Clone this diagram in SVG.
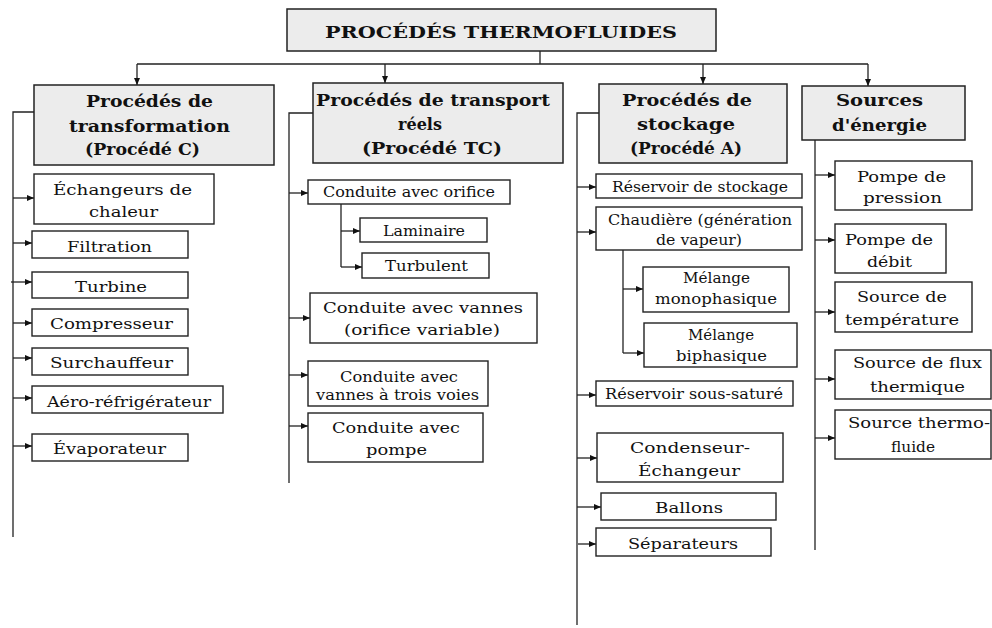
<svg xmlns="http://www.w3.org/2000/svg" width="992" height="628" viewBox="0 0 992 628">
<style>
.hdr rect{fill:#ececec;stroke:#222;stroke-width:1.5}
.box rect{fill:#fff;stroke:#222;stroke-width:1.4}
text{font-family:"DejaVu Serif","Liberation Serif",serif;fill:#111}
.hdr text{font-size:17px;font-weight:bold}
.box text{font-size:15px}
.conn path{fill:none;stroke:#222;stroke-width:1.3}
.conn .a{marker-end:url(#ah)}
</style>
<defs>
<marker id="ah" markerUnits="userSpaceOnUse" markerWidth="8" markerHeight="7" refX="7" refY="3.5" orient="auto">
<path d="M0,0.5 L7,3.5 L0,6.5 z" fill="#111"/>
</marker>
</defs>
<rect width="992" height="628" fill="#fff"/>

<g class="conn" id="connectors">
<path d="M540 51 V64 M137 64 H868"/>
<path class="a" d="M137 64 V85"/>
<path class="a" d="M385 64 V83"/>
<path class="a" d="M703 64 V84"/>
<path class="a" d="M868 64 V86"/>
<path d="M34 112 H13 V537"/>
<path class="a" d="M13 198 H34"/>
<path class="a" d="M13 243 H32"/>
<path class="a" d="M11 282 H32"/>
<path class="a" d="M13 323 H32"/>
<path class="a" d="M13 358 H32"/>
<path class="a" d="M13 398 H32"/>
<path class="a" d="M13 446 H32"/>
<path d="M313 113 H289 V483"/>
<path class="a" d="M289 193 H308"/>
<path class="a" d="M289 318 H310"/>
<path class="a" d="M289 375 H308"/>
<path class="a" d="M289 426 H308"/>
<path d="M341 204 V267"/>
<path class="a" d="M341 231 H360"/>
<path class="a" d="M341 267 H362"/>
<path d="M599 113 H577 V625"/>
<path class="a" d="M577 187 H596"/>
<path class="a" d="M577 232 H596"/>
<path class="a" d="M577 395 H596"/>
<path class="a" d="M577 458 H597"/>
<path class="a" d="M577 507 H601"/>
<path class="a" d="M578 544 H596"/>
<path d="M623 250 V353"/>
<path class="a" d="M623 289 H643"/>
<path class="a" d="M623 353 H644"/>
<path d="M815 140 V550"/>
<path class="a" d="M815 175 H835"/>
<path class="a" d="M815 240 H835"/>
<path class="a" d="M815 312 H835"/>
<path class="a" d="M815 379 H835"/>
<path class="a" d="M815 438 H835"/>
</g>

<g class="hdr" id="title"><rect x="287" y="9" width="429" height="42"/><text x="325" y="38" textLength="352" lengthAdjust="spacingAndGlyphs" style="font-size:17px">PROCÉDÉS THERMOFLUIDES</text></g>
<g class="hdr" id="transformation"><rect x="34" y="85" width="240" height="80"/>
<text x="86" y="107" textLength="127" lengthAdjust="spacingAndGlyphs">Procédés de</text><text x="69" y="132" textLength="161" lengthAdjust="spacingAndGlyphs">transformation</text><text x="85" y="155" textLength="115" lengthAdjust="spacingAndGlyphs">(Procédé C)</text></g>
<g class="hdr" id="transport"><rect x="313" y="83" width="250" height="80"/>
<text x="316" y="106" textLength="234" lengthAdjust="spacingAndGlyphs">Procédés de transport</text><text x="398" y="130" textLength="44" lengthAdjust="spacingAndGlyphs">réels</text><text x="362" y="154" textLength="140" lengthAdjust="spacingAndGlyphs">(Procédé TC)</text></g>
<g class="hdr" id="stockage"><rect x="599" y="84" width="188" height="79"/>
<text x="622" y="106" textLength="130" lengthAdjust="spacingAndGlyphs">Procédés de</text><text x="637" y="130" textLength="98" lengthAdjust="spacingAndGlyphs">stockage</text><text x="630" y="154" textLength="112" lengthAdjust="spacingAndGlyphs">(Procédé A)</text></g>
<g class="hdr" id="sources"><rect x="802" y="86" width="163" height="54"/>
<text x="836" y="106" textLength="87" lengthAdjust="spacingAndGlyphs">Sources</text><text x="832" y="131" textLength="95" lengthAdjust="spacingAndGlyphs">d'énergie</text></g>

<g class="box" id="echangeurs"><rect x="34" y="174" width="180" height="50"/><text x="53" y="195" textLength="139" lengthAdjust="spacingAndGlyphs">Échangeurs de</text><text x="89" y="217" textLength="69" lengthAdjust="spacingAndGlyphs">chaleur</text></g>
<g class="box" id="filtration"><rect x="32" y="231" width="156" height="27"/><text x="67" y="252" textLength="85" lengthAdjust="spacingAndGlyphs">Filtration</text></g>
<g class="box" id="turbine"><rect x="32" y="272" width="156" height="26"/><text x="75" y="292" textLength="72" lengthAdjust="spacingAndGlyphs">Turbine</text></g>
<g class="box" id="compresseur"><rect x="32" y="309" width="156" height="27"/><text x="50" y="329" textLength="123" lengthAdjust="spacingAndGlyphs">Compresseur</text></g>
<g class="box" id="surchauffeur"><rect x="32" y="348" width="156" height="27"/><text x="50" y="368" textLength="123" lengthAdjust="spacingAndGlyphs">Surchauffeur</text></g>
<g class="box" id="aero"><rect x="32" y="386" width="191" height="27"/><text x="47" y="407" textLength="164" lengthAdjust="spacingAndGlyphs">Aéro-réfrigérateur</text></g>
<g class="box" id="evaporateur"><rect x="32" y="434" width="156" height="27"/><text x="53" y="454" textLength="113" lengthAdjust="spacingAndGlyphs">Évaporateur</text></g>

<g class="box" id="orifice"><rect x="308" y="180" width="202" height="24"/><text x="323" y="197" textLength="172" lengthAdjust="spacingAndGlyphs">Conduite avec orifice</text></g>
<g class="box" id="laminaire"><rect x="360" y="218" width="127" height="24"/><text x="383" y="236" textLength="82" lengthAdjust="spacingAndGlyphs">Laminaire</text></g>
<g class="box" id="turbulent"><rect x="362" y="253" width="127" height="25"/><text x="385" y="271" textLength="83" lengthAdjust="spacingAndGlyphs">Turbulent</text></g>
<g class="box" id="vannes"><rect x="310" y="293" width="227" height="50"/><text x="323" y="313" textLength="200" lengthAdjust="spacingAndGlyphs">Conduite avec vannes</text><text x="344" y="335" textLength="156" lengthAdjust="spacingAndGlyphs">(orifice  variable)</text></g>
<g class="box" id="troisvoies"><rect x="308" y="361" width="180" height="45"/><text x="340" y="382" textLength="118" lengthAdjust="spacingAndGlyphs">Conduite avec</text><text x="316" y="400" textLength="163" lengthAdjust="spacingAndGlyphs">vannes à trois voies</text></g>
<g class="box" id="pompe"><rect x="308" y="413" width="175" height="49"/><text x="332" y="433" textLength="128" lengthAdjust="spacingAndGlyphs">Conduite avec</text><text x="366" y="455" textLength="61" lengthAdjust="spacingAndGlyphs">pompe</text></g>

<g class="box" id="reservoir"><rect x="596" y="174" width="206" height="24"/><text x="612" y="192" textLength="176" lengthAdjust="spacingAndGlyphs">Réservoir de stockage</text></g>
<g class="box" id="chaudiere"><rect x="596" y="207" width="206" height="43"/><text x="608" y="225" textLength="184" lengthAdjust="spacingAndGlyphs">Chaudière (génération</text><text x="656" y="245" textLength="86" lengthAdjust="spacingAndGlyphs">de vapeur)</text></g>
<g class="box" id="mono"><rect x="643" y="267" width="146" height="45"/><text x="683" y="283" textLength="67" lengthAdjust="spacingAndGlyphs">Mélange</text><text x="655" y="304" textLength="122" lengthAdjust="spacingAndGlyphs">monophasique</text></g>
<g class="box" id="bi"><rect x="644" y="323" width="153" height="44"/><text x="688" y="340" textLength="66" lengthAdjust="spacingAndGlyphs">Mélange</text><text x="676" y="361" textLength="91" lengthAdjust="spacingAndGlyphs">biphasique</text></g>
<g class="box" id="soussature"><rect x="596" y="381" width="197" height="25"/><text x="605" y="399" textLength="178" lengthAdjust="spacingAndGlyphs">Réservoir sous-saturé</text></g>
<g class="box" id="condenseur"><rect x="597" y="433" width="186" height="49"/><text x="630" y="453" textLength="120" lengthAdjust="spacingAndGlyphs">Condenseur-</text><text x="638" y="476" textLength="102" lengthAdjust="spacingAndGlyphs">Échangeur</text></g>
<g class="box" id="ballons"><rect x="601" y="493" width="175" height="27"/><text x="655" y="513" textLength="68" lengthAdjust="spacingAndGlyphs">Ballons</text></g>
<g class="box" id="separateurs"><rect x="596" y="528" width="175" height="28"/><text x="628" y="549" textLength="110" lengthAdjust="spacingAndGlyphs">Séparateurs</text></g>

<g class="box" id="pression"><rect x="835" y="161" width="137" height="49"/><text x="857" y="182" textLength="89" lengthAdjust="spacingAndGlyphs">Pompe de</text><text x="863" y="203" textLength="79" lengthAdjust="spacingAndGlyphs">pression</text></g>
<g class="box" id="debit"><rect x="835" y="224" width="111" height="49"/><text x="845" y="245" textLength="88" lengthAdjust="spacingAndGlyphs">Pompe de</text><text x="867" y="267" textLength="45" lengthAdjust="spacingAndGlyphs">débit</text></g>
<g class="box" id="temperature"><rect x="835" y="282" width="137" height="50"/><text x="857" y="302" textLength="90" lengthAdjust="spacingAndGlyphs">Source de</text><text x="845" y="325" textLength="114" lengthAdjust="spacingAndGlyphs">température</text></g>
<g class="box" id="flux"><rect x="835" y="350" width="156" height="49"/><text x="853" y="368" textLength="129" lengthAdjust="spacingAndGlyphs">Source de flux</text><text x="870" y="392" textLength="95" lengthAdjust="spacingAndGlyphs">thermique</text></g>
<g class="box" id="thermofluide"><rect x="835" y="410" width="156" height="49"/><text x="848" y="428" textLength="142" lengthAdjust="spacingAndGlyphs">Source thermo-</text><text x="891" y="452" textLength="44" lengthAdjust="spacingAndGlyphs">fluide</text></g>
</svg>
